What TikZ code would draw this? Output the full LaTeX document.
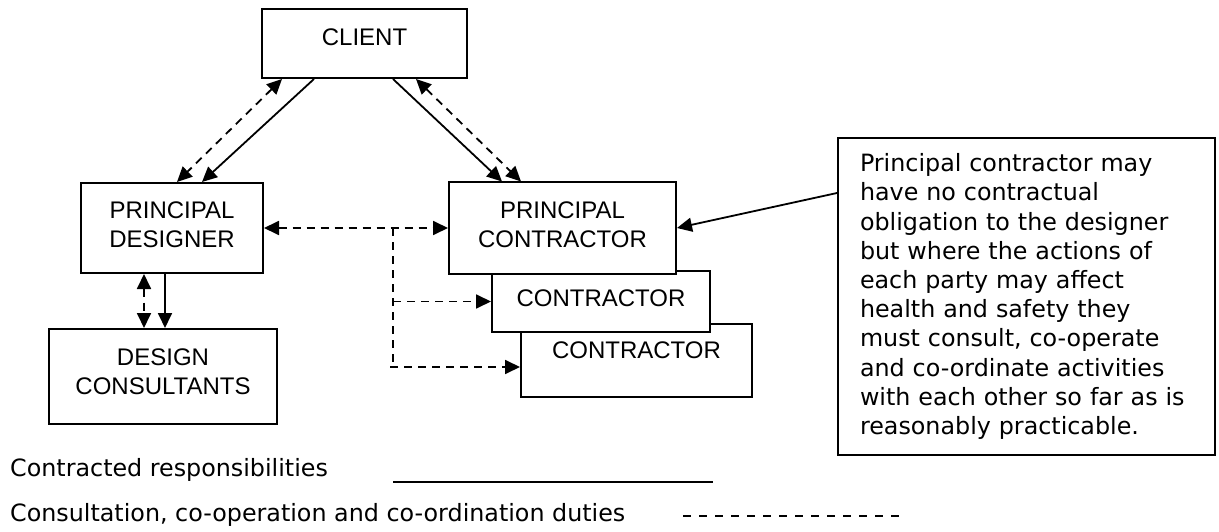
\documentclass[tikz,border=0pt]{standalone}
\usepackage{fontspec}
\newfontfamily\arialfont{Liberation Sans}
\newfontfamily\verdanafont{DejaVu Sans}
\usetikzlibrary{arrows.meta}

\begin{document}
\begin{tikzpicture}[x=1pt, y=-1pt,
  box/.style={draw, line width=2pt, fill=white, align=center, inner sep=0pt,
    font=\arialfont\fontsize{24}{29}\selectfont},
  contract/.style={line width=1.8pt, -{Triangle[length=15pt,width=14pt]}},
  dashline/.style={line width=1.8pt, dash pattern=on 8pt off 6pt},
  duty/.style={dashline, {Triangle[length=15pt,width=14pt]}-{Triangle[length=15pt,width=14pt]}},
  dutyto/.style={dashline, -{Triangle[length=15pt,width=14pt]}},
  legend/.style={anchor=west, inner sep=0pt, font=\verdanafont\fontsize{23.8}{29}\selectfont}]
\useasboundingbox (0,0) rectangle (1219,532);

\node[box, minimum width=205pt, minimum height=69pt, text depth=13pt] (client) at (364.5,43.5) {CLIENT};
\node[box, minimum width=182pt, minimum height=90pt, text depth=7pt] (pd) at (172,228) {PRINCIPAL\\ DESIGNER};
\node[box, minimum width=228pt, minimum height=95pt, text depth=10pt] (dc) at (163,376.5) {DESIGN\\ CONSULTANTS};
\node[box, minimum width=231pt, minimum height=73pt, text depth=21pt] (c2) at (636.5,360.5) {CONTRACTOR};
\node[box, minimum width=218pt, minimum height=61pt, text depth=7pt] (c1) at (601,301.5) {CONTRACTOR};
\node[box, minimum width=227pt, minimum height=91pt, text depth=7pt] (pc) at (562.5,228) {PRINCIPAL\\ CONTRACTOR};
\node[draw, line width=2pt, text width=333pt, minimum height=317pt, inner xsep=22pt, inner ysep=0pt,
  align=left, font=\verdanafont\fontsize{23.8}{29.2}\selectfont] (note) at (1026.5,296.5)
  {Principal contractor may\\ have no contractual\\ obligation to the designer\\ but where the actions of\\
   each party may affect\\ health and safety they\\ must consult, co-operate\\ and co-ordinate activities\\
   with each other so far as is\\ reasonably practicable.};

\draw[duty] ([xshift=21pt]client.south west) -- ([xshift=97pt]pd.north west);
\draw[contract] ([xshift=53pt]client.south west) -- ([xshift=122pt]pd.north west);
\draw[contract] ([xshift=-75pt]client.south east) -- ([xshift=54pt]pc.north west);
\draw[duty] ([xshift=-52pt]client.south east) -- ([xshift=73pt]pc.north west);

\draw[duty] (pd.east) -- (pc.west);
\coordinate (fork) at (393,228);
\coordinate (split) at (393,367);
\draw[dashline] (fork) -- (split);
\draw[dutyto] (fork |- c1.west) -- (c1.west);
\draw[dutyto] ([xshift=-3pt]split) -- (split -| c2.west);

\draw[duty] ([xshift=64pt]pd.south west) -- ([xshift=96pt]dc.north west);
\draw[contract] ([xshift=85pt]pd.south west) -- ([xshift=117pt]dc.north west);

\draw[contract] ([yshift=103.5pt]note.west) -- (pc.east);

\node[legend] (contracted) at (10,470) {Contracted responsibilities};
\node[legend] (consulted) at (10,515) {Consultation, co-operation and co-ordination duties};
\coordinate (solid a) at (393,482);
\coordinate (solid b) at (713,482);
\coordinate (dash a) at (683,516);
\coordinate (dash b) at (899,516);
\draw[line width=1.4pt] (solid a) -- (solid b);
\draw[line width=1.4pt, dash pattern=on 8pt off 8pt] (dash a) -- (dash b);
\end{tikzpicture}
\end{document}
